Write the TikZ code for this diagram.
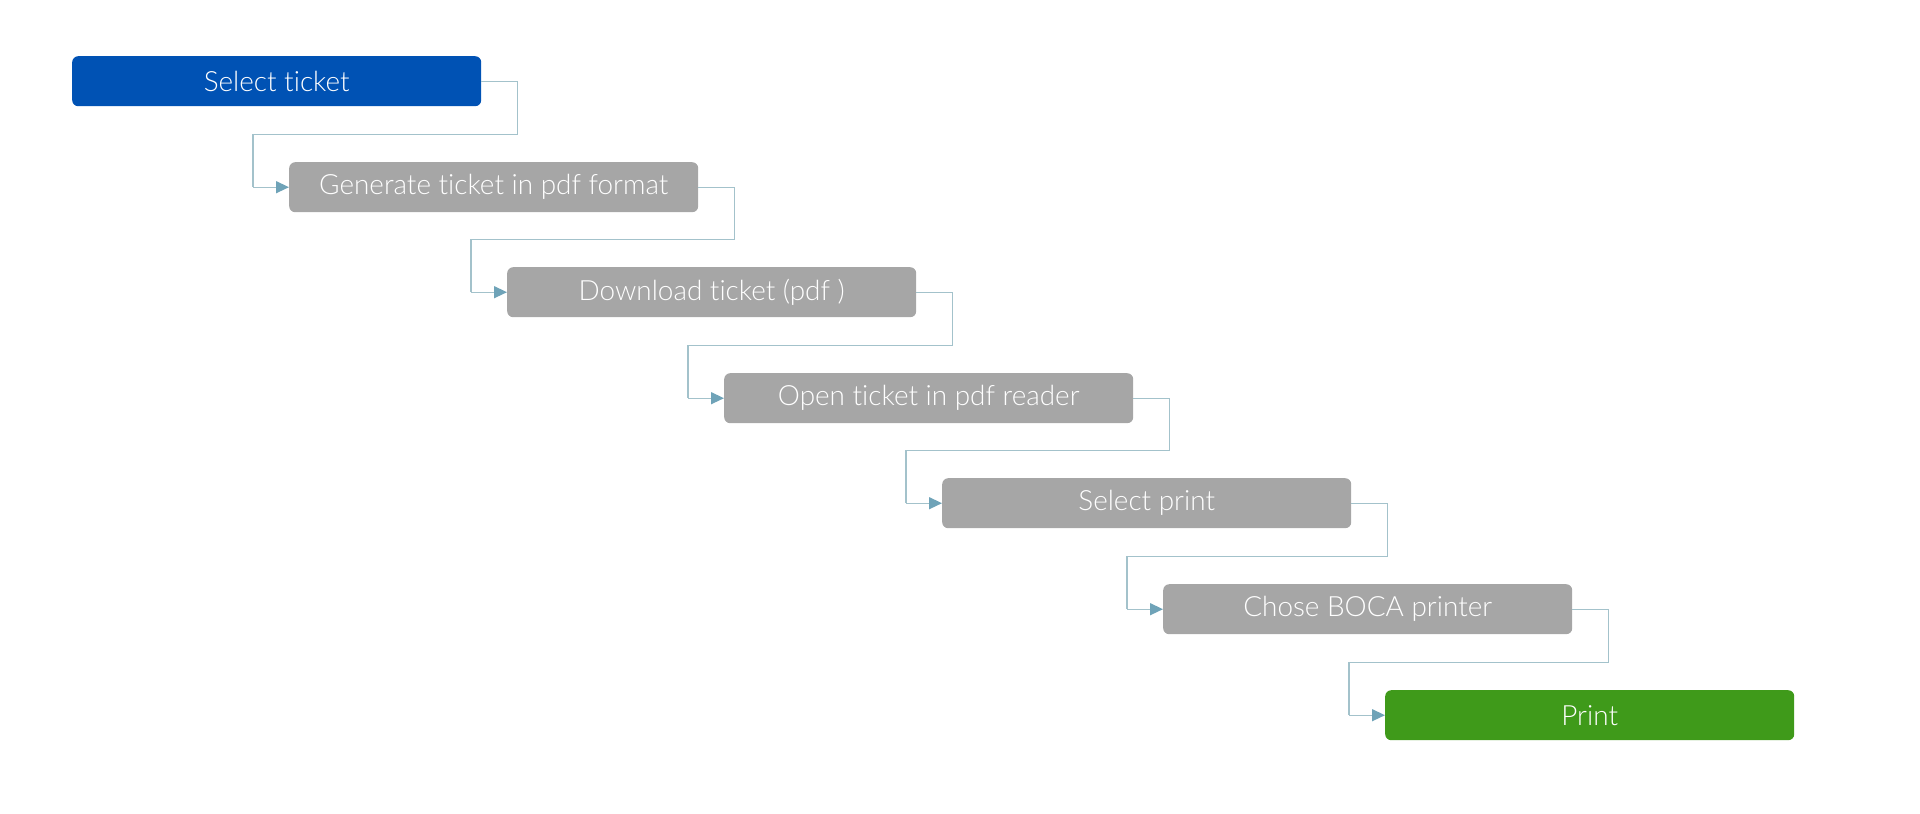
\documentclass[tikz,border=0pt]{standalone}
\usepackage{fontspec}
\setmainfont{Lato Light}[Ligatures=NoCommon]
\usetikzlibrary{arrows.meta,calc}
\definecolor{bluebox}{HTML}{0052B4}
\definecolor{graybox}{HTML}{A6A6A6}
\definecolor{greenbox}{HTML}{3F9A1A}
\definecolor{connline}{HTML}{A3C2CB}
\definecolor{connhead}{HTML}{6FA3B8}
\tikzset{
  x=1pt,y=1pt,
  stepbox/.style={rectangle,rounded corners=6pt,minimum width=409pt,minimum height=50pt,
    anchor=north west,text=white,font=\fontsize{27.9}{33}\selectfont,inner sep=0pt},
  conn/.style={draw=connline,line width=1.4pt},
  connarrow/.style={conn,-{Triangle[length=13pt,width=12pt,fill=connhead,color=connhead]}}
}
\begin{document}
\begin{tikzpicture}
\useasboundingbox (0,0) rectangle (1920,-814);
\node[stepbox,fill=bluebox] (b1) at (72,-56) {Select ticket};
\node[stepbox,fill=graybox] (b2) at (289,-162) {Generate ticket in pdf format};
\node[stepbox,fill=graybox] (b3) at (507,-267) {Download ticket (pdf )};
\node[stepbox,fill=graybox] (b4) at (724,-373) {Open ticket in pdf reader};
\node[stepbox,fill=graybox] (b5) at (942,-478) {Select print};
\node[stepbox,fill=graybox] (b6) at (1163,-584) {Chose BOCA printer};
\node[stepbox,fill=greenbox] (b7) at (1385,-690) {Print};
\foreach \a/\b in {b1/b2,b2/b3,b3/b4,b4/b5,b5/b6,b6/b7}{
  \coordinate (mid-\b) at ($(\a.south)!0.5!(\b.north)$);
  \coordinate (in-\b) at ($(\b.west)+(-36,0)$);
  \draw[conn] (\a.east) -- ++(36,0) |- (in-\b |- mid-\b) -- (in-\b);
  \draw[connarrow] (in-\b) -- (\b.west);
}
\end{tikzpicture}
\end{document}
